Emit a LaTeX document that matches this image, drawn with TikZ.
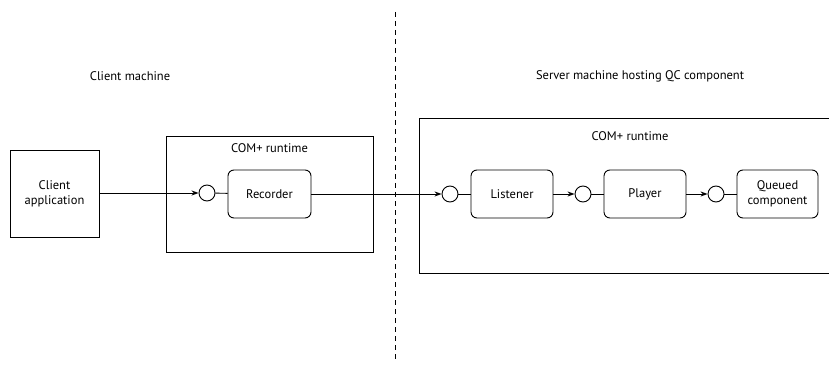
\documentclass[tikz,border=0pt]{standalone}
\usepackage{fontspec}
\setmainfont{PT Sans}
\usetikzlibrary{arrows.meta}
\begin{document}
\begin{tikzpicture}[x=1pt,y=-1pt,
  every node/.style={font=\fontsize{12.5}{15}\selectfont, inner sep=0pt, align=center},
  plainbox/.style={draw, line width=0.9pt, rectangle},
  roundbox/.style={draw, line width=0.9pt, rectangle, rounded corners=6pt},
  port/.style={draw, line width=0.9pt, circle, minimum size=16pt},
  conn/.style={line width=0.9pt},
  arr/.style={conn, -{Stealth[length=7pt,width=5pt]}},
  lbl/.style={}]
\useasboundingbox (0,0) rectangle (829,366);
% dashed divider
\coordinate (dtop) at (395,12);
\coordinate (dbot) at (395,362);
\draw[line width=0.9pt, dash pattern=on 5pt off 4pt] (dtop) -- (dbot);
% labels
\node[lbl] (cm) at (130,76) {Client machine};
\node[lbl] (sm) at (640,76) {Server machine hosting QC component};
% client
\node[plainbox, minimum width=89pt, minimum height=87pt] (client) at (54.5,193.5) {Client\\application};
% left runtime
\node[plainbox, minimum width=207pt, minimum height=116pt] (lrt) at (269.5,194) {};
\node[lbl] (lrtl) at (269.5,148) {COM+ runtime};
\node[port] (p0) at (207,193) {};
\node[roundbox, minimum width=83pt, minimum height=48pt] (rec) at (269.5,194) {Recorder};
% right runtime
\node[plainbox, minimum width=440pt, minimum height=155pt] (rrt) at (639,195.5) {};
\node[lbl] (rrtl) at (630,136) {COM+ runtime};
\node[port] (p1) at (450,194) {};
\node[roundbox, minimum width=82pt, minimum height=48pt] (lis) at (512,194) {Listener};
\node[port] (p2) at (583,194) {};
\node[roundbox, minimum width=82pt, minimum height=48pt] (ply) at (645,194) {Player};
\node[port] (p3) at (716,194) {};
\node[roundbox, minimum width=81pt, minimum height=48pt] (qc) at (777.5,194) {Queued\\component};
% connectors
\draw[arr] (client.east |- p0) -- (p0.west);
\draw[conn] (p0) -- (rec);
\draw[arr] (rec.east |- p1) -- (p1.west);
\draw[conn] (p1) -- (lis);
\draw[arr] (lis) -- (p2.west);
\draw[conn] (p2) -- (ply);
\draw[arr] (ply) -- (p3.west);
\draw[conn] (p3) -- (qc);
\end{tikzpicture}
\end{document}
